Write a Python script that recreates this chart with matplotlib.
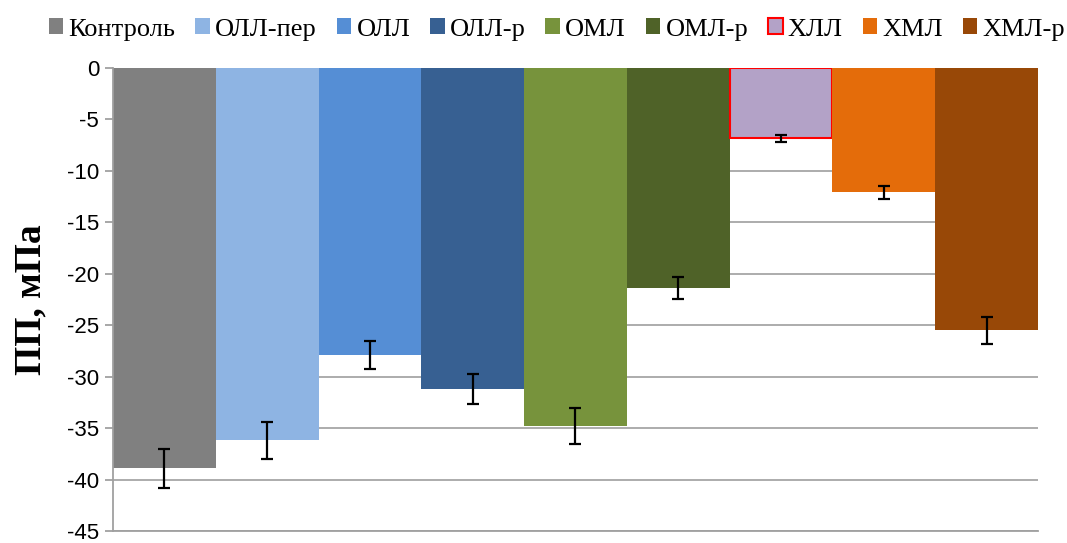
import numpy as np
import matplotlib.pyplot as plt
from matplotlib.patches import Patch

groups = ["Контроль", "ОЛЛ-пер", "ОЛЛ", "ОЛЛ-р", "ОМЛ", "ОМЛ-р", "ХЛЛ", "ХМЛ", "ХМЛ-р"]
values = [-38.9, -36.2, -27.9, -31.2, -34.8, -21.4, -6.85, -12.1, -25.5]
errors = [1.9, 1.8, 1.4, 1.5, 1.75, 1.05, 0.35, 0.6, 1.3]
colors = ["#808080", "#8EB4E3", "#558ED5", "#376092", "#77933C",
          "#4F6228", "#B3A2C7", "#E46C0A", "#984807"]
edges = [None, None, None, None, None, None, "#FF0000", None, None]
yticks = list(range(0, -50, -5))


def main():
    fig = plt.figure(figsize=(10.67, 5.43), dpi=100)
    ax = fig.add_axes([0.1059, 0.0221, 0.8669, 0.8527])

    x = np.arange(len(groups))
    for i in range(len(groups)):
        ax.bar(x[i], values[i], width=1.0, color=colors[i],
               edgecolor=edges[i] if edges[i] else colors[i],
               linewidth=1.5 if edges[i] else 0, zorder=2)
    ax.errorbar(x, values, yerr=errors, fmt="none", ecolor="black",
                elinewidth=1.6, capsize=4.5, capthick=1.6, zorder=3)

    ax.set_xlim(-0.5, len(groups) - 0.5)
    ax.set_ylim(-45, 0)
    ax.set_yticks(yticks)
    ax.set_yticklabels([str(t) for t in yticks], fontsize=16, family="Liberation Sans")
    ax.set_xticks([])
    ax.yaxis.grid(True, color="#A6A6A6", linewidth=1.3, zorder=0)
    ax.set_axisbelow(True)
    for s in ["top", "right"]:
        ax.spines[s].set_visible(False)
    ax.spines["left"].set_color("#A0A0A0")
    ax.spines["bottom"].set_color("#A0A0A0")
    ax.spines["left"].set_linewidth(1.3)
    ax.spines["bottom"].set_linewidth(1.3)
    ax.tick_params(axis="y", length=6, color="#A0A0A0", width=1.3, pad=4)

    ax.set_ylabel("ПП, мПа", fontsize=27, fontweight="bold",
                  family="Liberation Serif")
    ax.yaxis.set_label_coords(-0.07, 0.5)

    handles = [Patch(facecolor=colors[i],
                     edgecolor=edges[i] if edges[i] else colors[i],
                     linewidth=1.5 if edges[i] else 0)
               for i in range(len(groups))]
    fig.legend(handles, groups, loc="upper center", bbox_to_anchor=(0.522, 1.0),
               ncol=len(groups), frameon=False,
               prop={"family": "Liberation Serif", "size": 19},
               handlelength=0.55, handleheight=0.55, handletextpad=0.2,
               columnspacing=0.75, borderaxespad=0.3)

    fig.savefig("out.png", dpi=100)


if __name__ == "__main__":
    main()
